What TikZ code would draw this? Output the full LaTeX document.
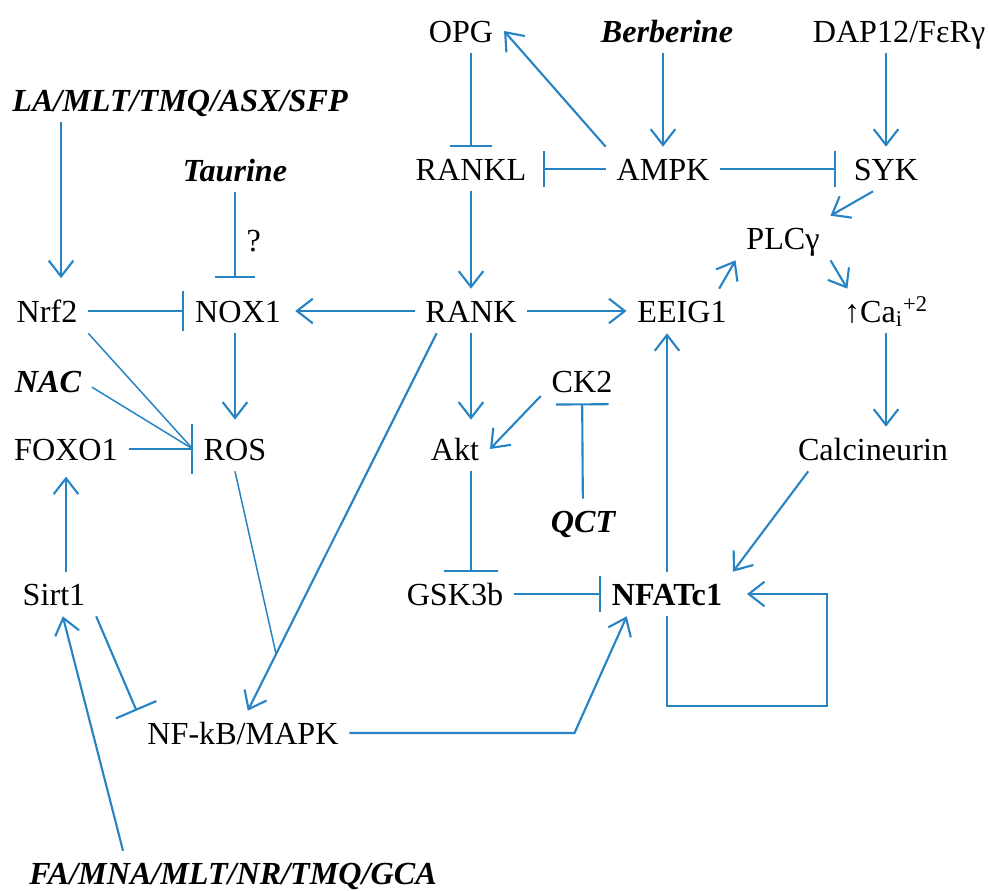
\documentclass[tikz,border=0pt]{standalone}
\usepackage{fontspec}
\setmainfont{Liberation Serif}
\usetikzlibrary{arrows.meta,positioning}
\definecolor{pathblue}{RGB}{38,131,196}

\begin{document}
\begin{tikzpicture}[x=0.02cm,y=-0.02cm,
    every node/.style={font=\fontsize{18.3}{22}\selectfont, inner xsep=6pt, inner ysep=0pt, text height=19pt, text depth=6pt},
    drug/.style={font=\fontsize{18.3}{22}\selectfont\bfseries\itshape},
    act/.style={draw=pathblue, line width=1.2pt, -{Straight Barb[length=9pt,width=14pt]}},
    inh/.style={draw=pathblue, line width=1.2pt, -{Bar[width=23pt]}},
    link/.style={draw=pathblue, line width=0.85pt}]
    \useasboundingbox (0,0) rectangle (989,891);

    \node[drug] (la) at (180,100) {LA/MLT/TMQ/ASX/SFP};
    \node (opg) at (461,31) {OPG};
    \node[drug] (berb) at (667,31) {Berberine};
    \node (dap) at (899,31) {DAP12/FεRγ};
    \node[drug] (taur) at (235,170) {Taurine};
    \node (rankl) at (471,169) {RANKL};
    \node (ampk) at (663,169) {AMPK};
    \node (syk) at (886,169) {SYK};
    \node (plc) at (783,238) {PLCγ};
    \node (nrf2) at (47,311) {Nrf2};
    \node (nox) at (238,311) {NOX1};
    \node (rank) at (471,311) {RANK};
    \node (eeig) at (682,311) {EEIG1};
    \node (ca) at (886,311) {↑Ca\textsubscript{i}\textsuperscript{+2}};
    \node[drug] (nac) at (48,381) {NAC};
    \node (ck2) at (582,381) {CK2};
    \node (foxo) at (66,449) {FOXO1};
    \node (ros) at (235,449) {ROS};
    \node (akt) at (455,449) {Akt};
    \node (calc) at (873,449) {Calcineurin};
    \node[drug] (qct) at (583,521) {QCT};
    \node (sirt) at (54,594) {Sirt1};
    \node (gsk) at (455,594) {GSK3b};
    \node[font=\fontsize{18.3}{22}\selectfont\bfseries] (nfat) at (667,594) {NFATc1};
    \node (nfkb) at (243,733) {NF-kB/MAPK};
    \node[drug] (fa) at (233,873) {FA/MNA/MLT/NR/TMQ/GCA};

    \coordinate (n2in) at ([xshift=8pt]nrf2.north);
    \coordinate (s1in) at ([xshift=5pt]sirt.south);

    \draw[act, shorten >=6pt] (n2in |- la.south) -- (n2in);
    \draw[inh, shorten >=6pt] (taur.south) -- (taur.south |- nox.north) node[midway, right] {?};
    \draw[inh] (nrf2) -- (nox);
    \draw[act, shorten >=2pt] (rank) -- (nox);
    \draw[act] (rank) -- (eeig);
    \draw[act, shorten >=4pt] (ros.north |- nox.south) -- (ros.north);
    \draw[link] (nrf2.south east) -- (ros.west);
    \draw[link] (nac.-8) -- (ros.west);
    \draw[inh, -{Bar[width=29pt]}] (foxo) -- (ros);
    \draw[act, shorten >=3pt] (foxo.south |- sirt.north) -- (foxo.south);
    \draw[act] ([xshift=-2.2cm]fa.north) -- (s1in);
    \draw[inh, -{Bar[width=25pt]}] (sirt.south east) -- (nfkb.north west);
    \draw[act] (rank.213) -- (nfkb.78) coordinate[pos=0.85] (rj);
    \draw[link] (ros.south) -- (rj);
    \draw[act] (nfkb.east) -- ++(225,0) -- (nfat.209);
    \draw[inh, -{Bar[width=21pt]}] (gsk) -- (nfat);
    \draw[inh, -{Bar[width=31pt]}] (akt.south -| rank) -- (gsk.north -| rank);
    \draw[act, shorten >=4pt] (rank) -- (rank |- akt.north);
    \draw[act] (ck2.200) -- (akt.east);
    \draw[inh, -{Bar[width=30pt]}] (qct) -- (ck2);
    \draw[act] (rankl) -- (rankl |- rank.north);
    \draw[inh, -{Bar[width=24pt]}] (rankl.north |- opg.south) -- (rankl.north);
    \draw[act] (ampk.north west) -- (opg.east);
    \draw[act] (ampk.north |- berb.south) -- (ampk.north);
    \draw[inh, -{Bar[width=21pt]}, shorten >=3pt] (ampk) -- (rankl);
    \draw[inh, -{Bar[width=21pt]}, shorten >=4pt] (ampk) -- (syk);
    \draw[act] (syk.north |- dap.south) -- (syk.north);
    \draw[act] (syk.240) -- (plc.north east);
    \draw[act] (eeig.31) -- (plc.south west);
    \draw[act] (plc.south east) -- (ca.150);
    \draw[act] (ca.south) -- (ca.south |- calc.north);
    \draw[act] (calc.199) -- (nfat.north east);
    \draw[act] (nfat.north) -- (nfat.north |- eeig.south);
    \draw[act, shorten >=8pt] (nfat.south) -- ++(0,90) -- ++(160,0) |- (nfat.east);
\end{tikzpicture}
\end{document}
